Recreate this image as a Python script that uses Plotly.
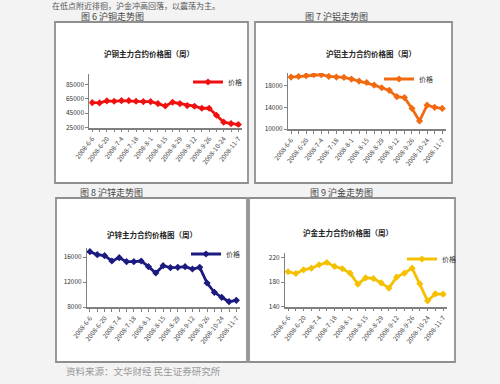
import plotly.graph_objects as go

# ---------------- data ----------------
dates = ["2008-6-6", "2008-6-13", "2008-6-20", "2008-6-27", "2008-7-4", "2008-7-11",
         "2008-7-18", "2008-7-25", "2008-8-1", "2008-8-8", "2008-8-15", "2008-8-22",
         "2008-8-29", "2008-9-5", "2008-9-12", "2008-9-19", "2008-9-26", "2008-10-17",
         "2008-10-24", "2008-10-31", "2008-11-7"]

copper = [59600, 59200, 62000, 61500, 62400, 62400, 61500, 61000, 61000, 58300, 55000,
          60100, 58300, 55500, 54600, 51800, 51800, 42100, 32400, 30500, 29200]
aluminum = [19600, 19720, 19850, 20030, 20030, 19720, 19600, 19540, 19230, 18860, 18600,
            18120, 17630, 17140, 15970, 15800, 13800, 11480, 14400, 14000, 13800]
zinc = [16850, 16370, 16210, 15360, 15890, 15250, 15250, 15360, 14450, 13440, 14610,
        14290, 14350, 14450, 14080, 14350, 11840, 10350, 9550, 8850, 9070]
gold = [196.9, 194.1, 200.1, 202.8, 208.3, 212.1, 205.6, 201.8, 194.7, 176.7, 187.1,
        186.0, 178.9, 170.2, 188.2, 194.7, 202.8, 177.3, 149.5, 161.0, 160.4]

copper_ticks = [25000, 45000, 65000, 85000]
aluminum_ticks = [10000, 14000, 18000]
zinc_ticks = [8000, 12000, 16000]
gold_ticks = [140, 180, 220]

series_name = "价格"
chart_titles = ["沪铜主力合约价格图（周）", "沪铝主力合约价格图（周）",
                "沪锌主力合约价格图（周）", "沪金主力合约价格图（周）"]
captions = ["图 6 沪铜走势图", "图 7 沪铝走势图", "图 8 沪锌走势图", "图 9 沪金走势图"]
top_text = "在低点附近徘徊，沪金冲高回落，以震荡为主。"
source_text = "资料来源：文华财经 民生证券研究所"

# ---------------- layout helpers ----------------
W, H = 500, 384
FONT = "Noto Sans CJK SC, Noto Sans, sans-serif"


def px_x(v):
    return v / W


def px_y(v):
    return 1 - v / H


ticktext = [d if i % 2 == 0 else "" for i, d in enumerate(dates)]

panels = [
    dict(y=copper, color="#f01010", ticks=copper_ticks, rng=[25000, 99500],
         xd=[89.3, 242], yd=[74, 127.5], leg=(247, 82)),
    dict(y=aluminum, color="#f26a10", ticks=aluminum_ticks, rng=[10000, 20350],
         xd=[288, 446], yd=[73, 129], leg=(438, 79)),
    dict(y=zinc, color="#1a1a80", ticks=zinc_ticks, rng=[8000, 17440],
         xd=[87, 240], yd=[248, 307], leg=(245, 254)),
    dict(y=gold, color="#f5c000", ticks=gold_ticks, rng=[140, 228],
         xd=[285, 447], yd=[252.7, 306.7], leg=(461, 259)),
]

fig = go.Figure()
layout = dict(
    width=W, height=H, margin=dict(l=0, r=0, t=0, b=0, autoexpand=False),
    paper_bgcolor="#f3f3f3", plot_bgcolor="rgba(0,0,0,0)",
    font=dict(family=FONT, color="#333333", size=7),
    shapes=[], annotations=[],
)

for i, p in enumerate(panels):
    n = "" if i == 0 else str(i + 1)
    legname = "legend" + n
    fig.add_trace(go.Scatter(
        x=dates, y=p["y"], mode="lines+markers", name=series_name,
        line=dict(color=p["color"], width=2.8),
        marker=dict(symbol="diamond", size=5.5, color=p["color"]),
        xaxis="x" + n, yaxis="y" + n, legend=legname, showlegend=True,
    ))
    layout["xaxis" + n] = dict(
        domain=[px_x(p["xd"][0]), px_x(p["xd"][1])], anchor="y" + n,
        type="category", range=[-0.4, 20.5], automargin=False,
        tickmode="array", tickvals=dates, ticktext=ticktext, tickangle=-52,
        showline=True, linecolor="#808080", linewidth=1.5,
        ticks="outside", ticklen=3, tickcolor="#808080",
        showgrid=False, zeroline=False,
        tickfont=dict(size=6.5, color="#444444"),
    )
    layout["yaxis" + n] = dict(
        domain=[px_y(p["yd"][1]), px_y(p["yd"][0])], anchor="x" + n,
        range=p["rng"], tickmode="array", tickvals=p["ticks"], automargin=False,
        ticktext=[str(v) for v in p["ticks"]],
        showline=True, linecolor="#808080", linewidth=1,
        ticks="outside", ticklen=3, tickcolor="#808080",
        showgrid=False, zeroline=False,
        tickfont=dict(size=6.5, color="#333333"),
    )
    layout[legname] = dict(
        x=px_x(p["leg"][0]), y=px_y(p["leg"][1]), xanchor="right", yanchor="middle",
        bgcolor="rgba(0,0,0,0)", borderwidth=0, itemwidth=30,
        font=dict(size=7, color="#333333"), tracegroupgap=0,
    )

# chart boxes
boxes = [(55, 22, 248, 183), (255, 22, 452, 183), (56, 198, 247, 362), (249, 198, 455, 362)]
for (x0, y0, x1, y1) in boxes:
    layout["shapes"].append(dict(
        type="rect", xref="paper", yref="paper", layer="below",
        x0=px_x(x0), x1=px_x(x1), y0=px_y(y1), y1=px_y(y0),
        fillcolor="white", line=dict(color="#8f8f8f", width=1.8)))

# chart titles
title_pos = [(149, 53), (371, 53), (152, 234), (348, 232)]
for t, (x, y) in zip(chart_titles, title_pos):
    layout["annotations"].append(dict(
        text="<b>" + t + "</b>", x=px_x(x), y=px_y(y), xref="paper", yref="paper",
        showarrow=False, xanchor="center", yanchor="middle",
        font=dict(size=7.5, color="#222222", family=FONT)))

# captions (centred)
cap_pos = [(112, 16.5), (336, 16.5), (111.5, 192), (341.5, 192)]
for t, (x, y) in zip(captions, cap_pos):
    layout["annotations"].append(dict(
        text=t, x=px_x(x), y=px_y(y), xref="paper", yref="paper",
        showarrow=False, xanchor="center", yanchor="middle",
        font=dict(size=9, color="#444444", family=FONT)))

layout["annotations"].append(dict(
    text=top_text, x=px_x(136), y=px_y(5.5), xref="paper", yref="paper",
    showarrow=False, xanchor="center", yanchor="middle",
    font=dict(size=8, color="#555555", family=FONT)))
layout["annotations"].append(dict(
    text=source_text, x=px_x(143.5), y=px_y(371), xref="paper", yref="paper",
    showarrow=False, xanchor="center", yanchor="middle",
    font=dict(size=9.5, color="#999999", family=FONT)))

fig.update_layout(**layout)
fig.write_html("out.html", config={"displayModeBar": False},
               post_script="document.body.style.margin='0';")
